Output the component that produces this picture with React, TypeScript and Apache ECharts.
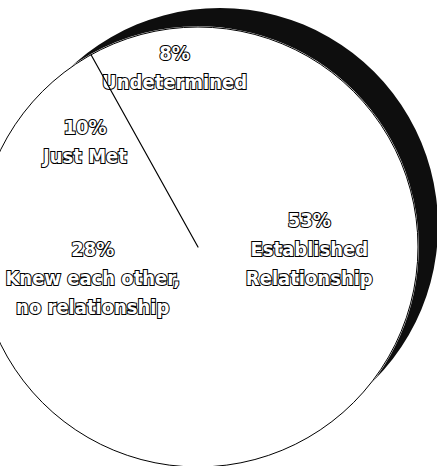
import React, { useEffect, useRef } from "react";
import * as echarts from "echarts";

const categories = [
  "Established\nRelationship",
  "Knew each other,\nno relationship",
  "Just Met",
  "Undetermined",
];
const percents = [53, 28, 10, 8];

// label shifts from the default "inside" position (layout only)
const labelShift = [
  { dx: -1, dy: -11 },
  { dx: -4, dy: -19 },
  { dx: -30, dy: -29 },
  { dx: 5, dy: -70 },
];

const FONT = "'DejaVu Sans Condensed', 'DejaVu Sans', sans-serif";

export default function App() {
  const ref = useRef<HTMLDivElement>(null);
  useEffect(() => {
    document.body.style.margin = "0";
    if (!ref.current) return;
    const chart = echarts.init(ref.current, null, { renderer: "svg" });
    const total = percents.reduce((a, b) => a + b, 0);
    const beforeLast = percents.slice(0, percents.length - 1).reduce((a, b) => a + b, 0);
    const center = [198, 247];
    const radius = 220;
    chart.setOption({
      animation: false,
      backgroundColor: "#fff",
      series: [
        {
          type: "pie",
          silent: true,
          center: [220, 226],
          radius: 218,
          z: 1,
          label: { show: false },
          labelLine: { show: false },
          data: [{ value: total, name: "shadow", itemStyle: { color: "#0e0e0e" } }],
        },
        {
          type: "pie",
          silent: true,
          center,
          radius,
          startAngle: 90,
          clockwise: true,
          z: 2,
          itemStyle: { color: "#fff", borderColor: "#fff", borderWidth: 1.5 },
          labelLine: { show: false },
          label: {
            show: true,
            position: "inside",
            formatter: (p: any) => `${p.value}%\n${p.name}`,
            color: "#fff",
            fontFamily: FONT,
            fontWeight: "bold",
            fontSize: 20,
            lineHeight: 29,
            textBorderColor: "#000",
            textBorderWidth: 2,
            align: "center",
          },
          labelLayout: (p: any) => labelShift[p.dataIndex],
          data: categories.map((c, i) => ({ name: c, value: percents[i] })),
        },
        {
          type: "pie",
          silent: true,
          center,
          radius,
          z: 3,
          label: { show: false },
          labelLine: { show: false },
          data: [
            {
              value: total,
              name: "outline",
              itemStyle: { color: "transparent", borderColor: "#000", borderWidth: 1 },
            },
          ],
        },
        {
          type: "pie",
          silent: true,
          center,
          radius,
          startAngle: 90,
          clockwise: true,
          z: 4,
          label: { show: false },
          labelLine: { show: false },
          data: [
            { value: beforeLast, name: "a", itemStyle: { color: "transparent", borderWidth: 0 } },
            { value: 0, name: "divider", itemStyle: { color: "transparent", borderColor: "#000", borderWidth: 1.2 } },
            { value: percents[percents.length - 1], name: "b", itemStyle: { color: "transparent", borderWidth: 0 } },
          ],
        },
      ],
    });
    return () => chart.dispose();
  }, []);
  return <div ref={ref} style={{ width: 437, height: 466 }} />;
}
